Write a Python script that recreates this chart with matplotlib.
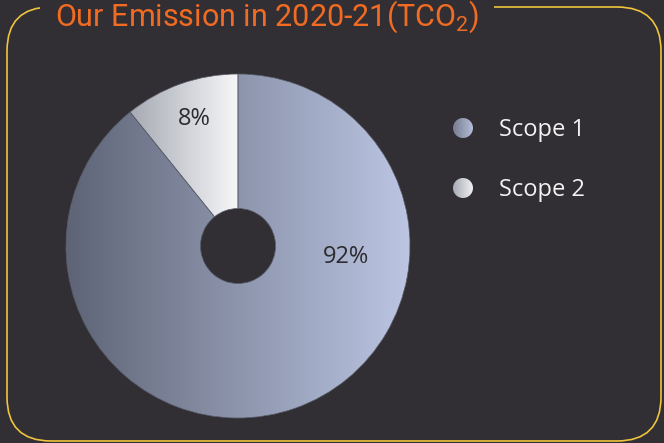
import numpy as np
import matplotlib.pyplot as plt
from matplotlib.colors import LinearSegmentedColormap
from matplotlib.patches import FancyBboxPatch, Circle

plt.rcParams["font.family"] = ["Open Sans", "DejaVu Sans"]
plt.rcParams["mathtext.fontset"] = "custom"
plt.rcParams["mathtext.rm"] = "Roboto"

# data
labels = ["Scope 1", "Scope 2"]
shares = [89.2, 10.8]          # slice sizes as drawn
share_text = ["92%", "8%"]     # labels as printed
grad = [("#5e6476", "#bcc6e3"), ("#a7aab4", "#f7f7f9")]
legend_grad = [("#777d90", "#b4bdd8"), ("#a7aab4", "#f0f0f2")]

BG = "#312f34"
W, H = 664, 443

fig = plt.figure(figsize=(6.64, 4.43), dpi=100, facecolor=BG)
ax = fig.add_axes([0, 0, 1, 1])
ax.set_facecolor(BG)


def gradient_fill(patch, x0, x1, y0, y1, c0, c1):
    cmap = LinearSegmentedColormap.from_list("g", [c0, c1])
    arr = np.linspace(0, 1, 256).reshape(1, -1)
    im = ax.imshow(arr, cmap=cmap, extent=(x0, x1, y0, y1), aspect="auto",
                   origin="lower", zorder=2, interpolation="bilinear")
    im.set_clip_path(patch)


# frame
frame = FancyBboxPatch((7, 2), 654, 434, boxstyle="round,pad=0,rounding_size=44",
                       facecolor="none", edgecolor="#efc43c", linewidth=1.2, zorder=1)
ax.add_patch(frame)

# donut
cx, cy, r, hole = 238, 197, 172, 37.5
wedges, _ = ax.pie(shares, startangle=90, counterclock=False, center=(cx, cy),
                   radius=r, frame=True,
                   wedgeprops=dict(width=r - hole, edgecolor="#595d69", linewidth=0.5))
ax.set_xlim(0, W)
ax.set_ylim(0, H)
ax.set_aspect("equal")
ax.axis("off")
for w, (c0, c1) in zip(wedges, grad):
    ext = w.get_path().get_extents()
    w.set_facecolor("none")
    w.set_zorder(3)
    gradient_fill(w, ext.x0, ext.x1, ext.y0, ext.y1, c0, c1)

ax.text(346, 186, share_text[0], ha="center", va="center", fontsize=17,
        color="#2c2b30", zorder=4)
ax.text(194, 324, share_text[1], ha="center", va="center", fontsize=17,
        color="#2c2b30", zorder=4)

# legend
for i, (lab, (c0, c1)) in enumerate(zip(labels, legend_grad)):
    ly = H - 128 - 60 * i
    circ = Circle((463, ly), 10, facecolor="none", edgecolor="none")
    ax.add_patch(circ)
    gradient_fill(circ, 453, 473, ly - 10, ly + 10, c0, c1)
    ax.text(499, ly - 2, lab, ha="left", va="center", fontsize=17, color="#f2f2f2")

# title
ax.text(267, H - 26, r"Our Emission in 2020-21(TCO$_\mathregular{2}$)",
        ha="center", va="baseline", fontsize=22, color="#f26b22",
        family="Roboto", zorder=5,
        bbox=dict(boxstyle="square,pad=0.5", facecolor=BG, edgecolor="none"))

fig.savefig("out.png", dpi=100, facecolor=BG)
